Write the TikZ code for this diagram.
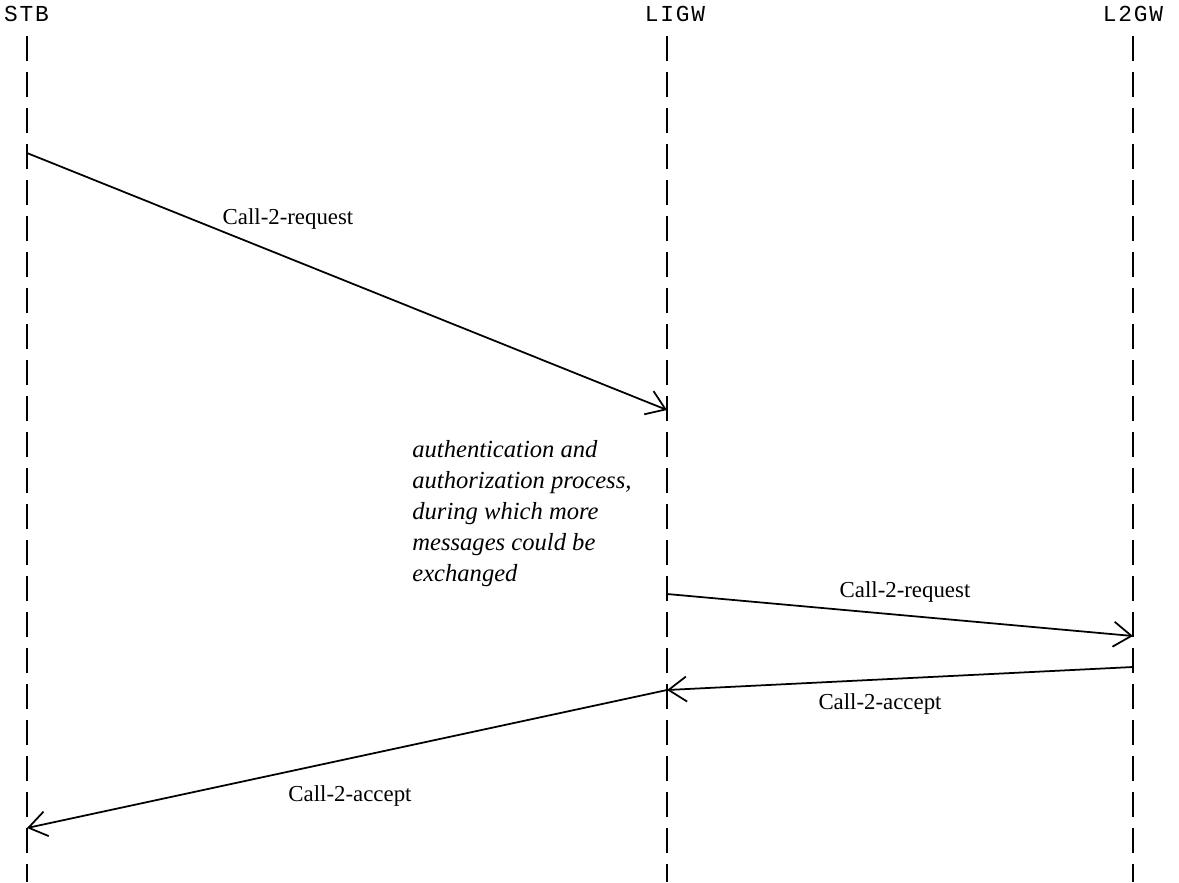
\documentclass[tikz,border=0pt]{standalone}
\usepackage{fontspec}
\setmainfont{Liberation Serif}
\setmonofont[LetterSpace=8]{Liberation Mono}
\usetikzlibrary{arrows.meta,positioning}

\tikzset{
  entity/.style={font=\ttfamily\fontsize{13}{15}\selectfont, inner sep=1pt},
  lifeline/.style={line width=1.3pt, dash pattern=on 0.5cm off 0.22cm},
  msg/.style={line width=1pt, -{Straight Barb[length=0.36cm,width=0.5cm,line width=1pt]}},
  msglabel/.style={font=\fontsize{13}{15}\selectfont, inner sep=1pt},
  note/.style={font=\itshape\fontsize{14}{17.6}\selectfont, align=left, inner sep=0pt}
}

\begin{document}
\begin{tikzpicture}[x=0.02cm,y=-0.02cm]
  \useasboundingbox (0,0) rectangle (1179,882);
% Entities
  \node[entity, anchor=west] (stb) at (2,14) {STB};
  \node[entity] (ligw) at (675,14)  {LIGW};
  \node[entity] (lgw2) at (1133,14) {L2GW};
% Lifelines
  \coordinate (stbtop)  at (27,36);
  \coordinate (stbbot)  at (27,882);
  \coordinate (ligwtop) at (667,36);
  \coordinate (ligwbot) at (667,882);
  \coordinate (lgwtop)  at (1133,36);
  \coordinate (lgwbot)  at (1133,882);
  \draw[lifeline] (stbtop) -- (stbbot);
  \draw[lifeline] (ligwtop) -- (ligwbot);
  \draw[lifeline] (lgwtop) -- (lgwbot);
% Message end points
  \coordinate (req1s) at (27,153);
  \coordinate (req1e) at (667,410);
  \coordinate (req2s) at (667,594);
  \coordinate (req2e) at (1133,636);
  \coordinate (acc1s) at (1133,667);
  \coordinate (acc1e) at (667,690);
  \coordinate (acc2e) at (27,828);
% Call-2-request STB -> LIGW
  \draw[msg] (req1s) -- (req1e);
  \node[msglabel] (req1lbl) at (288,219) {Call-2-request};
% Processing note
  \node[note, anchor=north west] (auth) at (412,440)
    {authentication and\\authorization process,\\during which more\\messages could be\\exchanged};
% Call-2-request LIGW -> L2GW
  \draw[msg] (req2s) -- (req2e);
  \node[msglabel] (req2lbl) at (905,592) {Call-2-request};
% Call-2-accept L2GW -> LIGW
  \draw[msg] (acc1s) -- (acc1e);
  \node[msglabel] (acc1lbl) at (880,704) {Call-2-accept};
% Call-2-accept LIGW -> STB
  \draw[msg] (acc1e) -- (acc2e);
  \node[msglabel] (acc2lbl) at (350,796) {Call-2-accept};
\end{tikzpicture}
\end{document}
